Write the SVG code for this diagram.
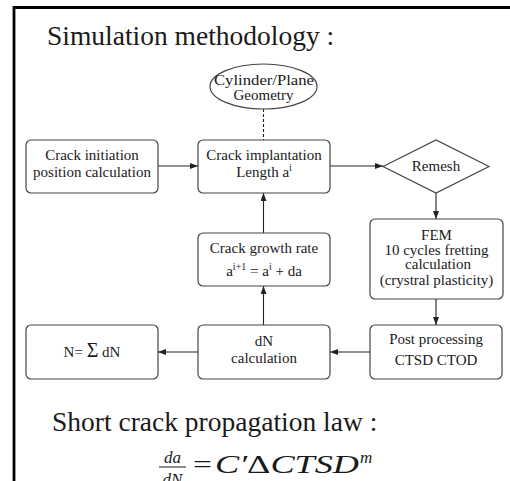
<svg xmlns="http://www.w3.org/2000/svg" width="510" height="481" viewBox="0 0 510 481">
<defs>
<marker id="ah" viewBox="0 0 8 6" refX="8" refY="3" markerWidth="8" markerHeight="6" markerUnits="userSpaceOnUse" orient="auto">
<path d="M0,0 L8,3 L0,6 z" fill="#222"/>
</marker>
</defs>
<style>
text{font-family:"Liberation Serif","Times New Roman",serif;fill:#1a1a1a}
.t{text-anchor:middle;font-size:15px}
.big{font-size:27.5px}
.m{font-style:italic}
.box{fill:#fff;stroke:#444;stroke-width:1.2}
.c{stroke:#222;stroke-width:1.1;fill:none}
</style>
<rect width="510" height="481" fill="#fff"/>
<path d="M14,481 V7.5 H510" fill="none" stroke="#000" stroke-width="2.8"/>
<text class="big" x="47" y="44.5">Simulation methodology :</text>
<g id="connectors">
<line class="c" x1="263.5" y1="109" x2="263.5" y2="140" stroke-dasharray="3,2"/>
<line class="c" x1="158" y1="166" x2="198" y2="166" marker-end="url(#ah)"/>
<line class="c" x1="330" y1="166" x2="383" y2="166" marker-end="url(#ah)"/>
<line class="c" x1="436" y1="193" x2="436" y2="219" marker-end="url(#ah)"/>
<line class="c" x1="436" y1="299" x2="436" y2="325" marker-end="url(#ah)"/>
<line class="c" x1="370" y1="352" x2="330" y2="352" marker-end="url(#ah)"/>
<line class="c" x1="198" y1="352" x2="158" y2="352" marker-end="url(#ah)"/>
<line class="c" x1="263.5" y1="325" x2="263.5" y2="286" marker-end="url(#ah)"/>
<line class="c" x1="263.5" y1="233" x2="263.5" y2="193" marker-end="url(#ah)"/>
</g>
<g id="geometry">
<ellipse class="box" cx="263.5" cy="86.5" rx="53.5" ry="22.5"/>
<text class="t" x="264" y="85" textLength="100" lengthAdjust="spacingAndGlyphs">Cylinder/Plane</text>
<text class="t" x="263.5" y="100">Geometry</text>
</g>
<g id="initiation">
<rect class="box" x="26" y="140" width="132" height="53" rx="5"/>
<text class="t" x="92" y="160">Crack initiation</text>
<text class="t" x="92" y="177">position calculation</text>
</g>
<g id="implantation">
<rect class="box" x="198" y="140" width="132" height="53" rx="5"/>
<text class="t" x="264" y="160">Crack implantation</text>
<text class="t" x="264" y="177">Length a<tspan font-size="10" dy="-6">i</tspan></text>
</g>
<g id="remesh">
<polygon class="box" points="383,166.5 436,140 489,166.5 436,193"/>
<text class="t" x="436" y="171">Remesh</text>
</g>
<g id="fem">
<rect class="box" x="370" y="219" width="133" height="80" rx="5"/>
<text class="t" x="436.5" y="240">FEM</text>
<text class="t" x="436.5" y="255">10 cycles fretting</text>
<text class="t" x="438" y="269">calculation</text>
<text class="t" x="436.5" y="285">(crystral plasticity)</text>
</g>
<g id="post">
<rect class="box" x="370" y="325" width="132" height="54" rx="5"/>
<text class="t" x="436" y="344">Post processing</text>
<text class="t" x="436" y="365">CTSD CTOD</text>
</g>
<g id="growth">
<rect class="box" x="198" y="233" width="132" height="53" rx="5"/>
<text class="t" x="264" y="253">Crack growth rate</text>
<text class="t" x="264" y="276">a<tspan font-size="10" dy="-6">i+1</tspan><tspan dy="6"> = a</tspan><tspan font-size="10" dy="-6">i</tspan><tspan dy="6"> + da</tspan></text>
</g>
<g id="dn">
<rect class="box" x="198" y="325" width="132" height="54" rx="5"/>
<text class="t" x="264" y="346">dN</text>
<text class="t" x="264" y="363">calculation</text>
</g>
<g id="sum">
<rect class="box" x="26" y="325" width="132" height="54" rx="5"/>
<text class="t" x="92" y="357">N= <tspan font-size="20">Σ</tspan> dN</text>
</g>
<text class="big" x="52" y="431">Short crack propagation law :</text>
<g id="formula">
<text class="m" x="172.5" y="463" font-size="17" text-anchor="middle">da</text>
<line x1="159" y1="467" x2="186" y2="467" stroke="#1a1a1a" stroke-width="1"/>
<text class="m" x="172.5" y="485" font-size="17" text-anchor="middle">dN</text>
<text x="193" y="473" font-size="25" textLength="19" lengthAdjust="spacingAndGlyphs">=</text>
<text class="m" x="215" y="473" font-size="26" textLength="144" lengthAdjust="spacingAndGlyphs">C′<tspan font-style="normal">Δ</tspan>CTSD</text>
<text class="m" x="360" y="463" font-size="17">m</text>
</g>
</svg>
